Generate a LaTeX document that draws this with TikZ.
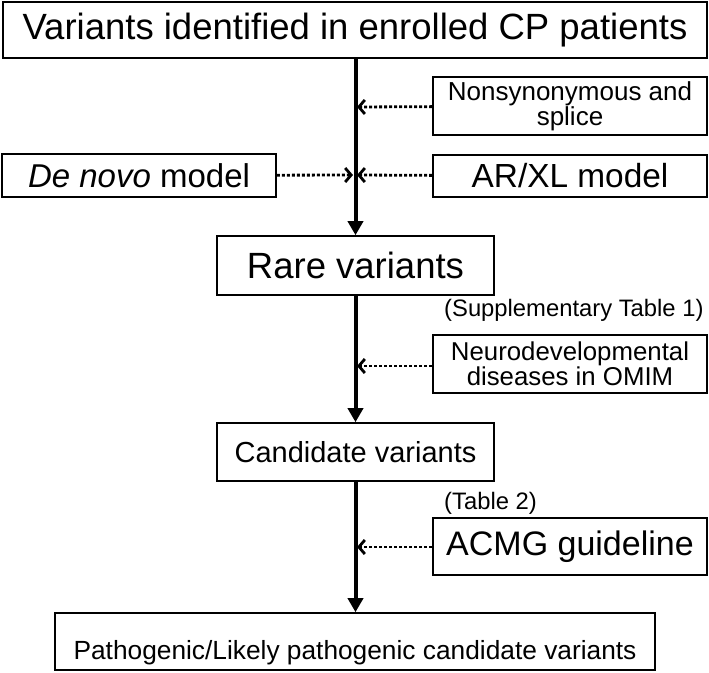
\documentclass[tikz,border=0pt]{standalone}
\usepackage{fontspec}
\setmainfont{Liberation Sans}
\usetikzlibrary{arrows.meta}
\usetikzlibrary{positioning}

\begin{document}
\begin{tikzpicture}[
    x = 1pt, y = -1pt,
    box/.style = {draw, line width = 1.6pt, inner sep = 0pt, align = center},
    sidebox/.style = {box, minimum width = 274pt, minimum height = 58pt},
    midbox/.style = {box, minimum width = 277pt, minimum height = 58pt},
    note/.style = {inner sep = 0pt, anchor = west},
    fs/.style = {font = \fontsize{#1}{#1}\selectfont},
  ]
  \useasboundingbox (0,0) rectangle (709,672);

  % main column
  \node[box, minimum width = 704pt, minimum height = 56pt, fs = 36.5]
    (found) at (355,30) {Variants identified in enrolled CP patients};
  \node[midbox, minimum height = 59pt, fs = 36.5] (rare) at (355.5,265.5) {Rare variants};
  \node[midbox, fs = 29] (cand) at (355.5,452) {Candidate variants};
  \node[box, minimum width = 600pt, minimum height = 57pt, fs = 26.3,
        text height = 36.8pt, text depth = 0pt]
    (path) at (355,641.5) {Pathogenic/Likely pathogenic candidate variants};

  % filters
  \node[sidebox, font = \fontsize{26}{22}\selectfont] (nonsyn) at (570,106) {Nonsynonymous and\\splice};
  \node[sidebox, minimum height = 43pt, fs = 33] (denovo) at (139,175.5) {\textit{De novo} model};
  \node[sidebox, minimum height = 42pt, fs = 33.4] (arxl) at (570,176) {AR/XL model};
  \node[sidebox, font = \fontsize{25.8}{22}\selectfont] (neuro) at (570,364) {Neurodevelopmental\\diseases in OMIM};
  \node[sidebox, minimum height = 57pt, fs = 34] (acmg) at (570,546.5) {ACMG guideline};

  \node[note, fs = 23.8] (supp) at (444,310) {(Supplementary Table 1)};
  \node[note, fs = 23.8] (tab) at (444,503) {(Table 2)};

  \coordinate (j1) at (355,107);
  \coordinate (j2) at (355,175);
  \coordinate (j3) at (355,366);
  \coordinate (j4) at (355,547);

  \begin{scope}[line width = 4pt, -{Triangle[length = 14pt, width = 15pt]}]
    \draw (found.south -| rare.north) -- (rare.north);
    \draw (rare) -- (cand);
    \draw (cand.south) -- (path.north -| cand.south);
  \end{scope}

  \begin{scope}[line width = 2.8pt, dash pattern = on 3pt off 2pt,
                -{Straight Barb[length = 6pt, width = 14pt]}, shorten > = 2pt]
    \draw (nonsyn) -- (j1);
    \draw (denovo) -- (j2);
    \draw (arxl) -- (j2);
    \draw (neuro.west |- j3) -- (j3);
    \draw (acmg.west |- j4) -- (j4);
  \end{scope}

\end{tikzpicture}
\end{document}
